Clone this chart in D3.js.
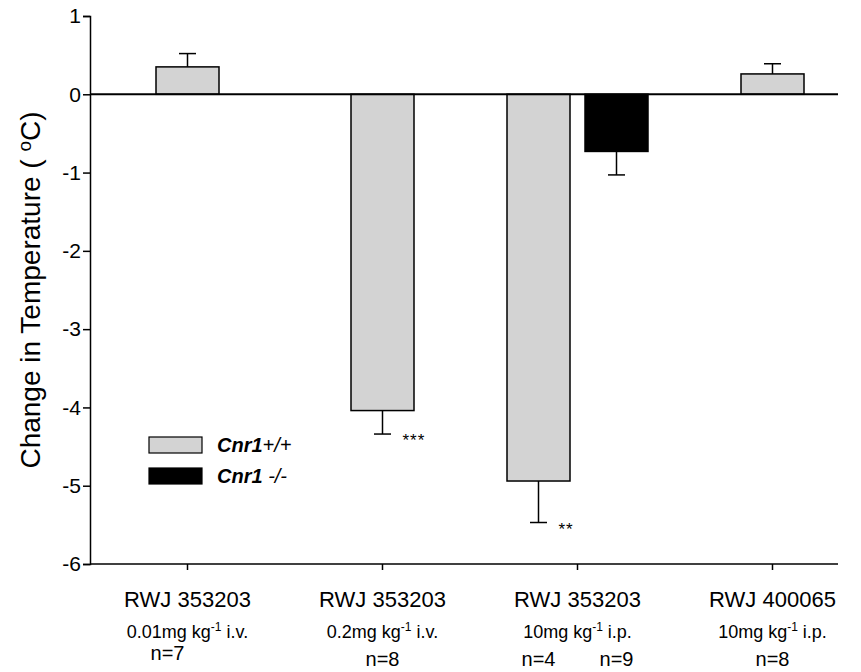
<!DOCTYPE html>
<html>
<head>
<meta charset="utf-8">
<script src="https://cdn.jsdelivr.net/npm/d3@7"></script>
<style>
  body { margin: 0; background: #fff; }
  svg { display: block; font-family: "Liberation Sans", Arial, sans-serif; }
</style>
</head>
<body>
<div id="chart"></div>
<script>
// groups along the x axis
const compounds = ['RWJ 353203', 'RWJ 353203', 'RWJ 353203', 'RWJ 400065'];
const doseAmounts = ['0.01mg kg', '0.2mg kg', '10mg kg', '10mg kg'];
const doseRoutes = ['i.v.', 'i.v.', 'i.p.', 'i.p.'];

// Cnr1 +/+ (grey) bars
const wtValues = [0.35, -4.04, -4.94, 0.26];
const wtErrors = [0.17, 0.30, 0.53, 0.13];
const wtN = ['n=7', 'n=8', 'n=4', 'n=8'];
const wtStars = ['', '***', '**', ''];

// Cnr1 -/- (black) bar, only in group 3
const koGroups = [2];
const koValues = [-0.73];
const koErrors = [0.30];
const koN = ['n=9'];

const yTicks = [1, 0, -1, -2, -3, -4, -5, -6];

const width = 861;
const height = 672;
const marginLeft = 90;
const marginTop = 16;
const plotBottom = 564;
const axisRight = 838;
const barW = 63;
const pairOffset = 39;

const $svg = d3.select('#chart').append('svg')
  .attr('width', width)
  .attr('height', height);

const scaleX = d3.scaleBand()
  .domain(d3.range(compounds.length))
  .range([marginLeft, marginLeft + 195 * 4]);

const scaleY = d3.scaleLinear()
  .domain([1, -6])
  .range([marginTop, plotBottom]);

const center = i => scaleX(i) + scaleX.bandwidth() / 2;

// bars table
const bars = [];
wtValues.forEach((v, i) => {
  const paired = koGroups.includes(i);
  bars.push({ x: center(i) - (paired ? pairOffset : 0), v, e: wtErrors[i], fill: '#d3d3d3', n: wtN[i], stars: wtStars[i], i });
});
koValues.forEach((v, k) => {
  const i = koGroups[k];
  bars.push({ x: center(i) + pairOffset, v, e: koErrors[k], fill: '#000', n: koN[k], stars: '', i });
});

// error bars (one-sided, away from zero)
const $err = $svg.append('g').attr('class', 'g-err')
  .attr('stroke', '#000').attr('stroke-width', 1.5);
bars.forEach(d => {
  const sign = d.v >= 0 ? 1 : -1;
  const yEnd = scaleY(d.v + sign * d.e);
  $err.append('line')
    .attr('x1', d.x).attr('x2', d.x)
    .attr('y1', scaleY(d.v)).attr('y2', yEnd);
  $err.append('line')
    .attr('x1', d.x - 8.5).attr('x2', d.x + 8.5)
    .attr('y1', yEnd).attr('y2', yEnd);
});

// bars
$svg.append('g').attr('class', 'g-bars')
  .selectAll('rect')
  .data(bars)
  .enter()
  .append('rect')
  .attr('x', d => d.x - barW / 2)
  .attr('width', barW)
  .attr('y', d => scaleY(Math.max(0, d.v)))
  .attr('height', d => Math.abs(scaleY(d.v) - scaleY(0)))
  .attr('fill', d => d.fill)
  .attr('stroke', '#000')
  .attr('stroke-width', 1.5);

// significance stars
$svg.append('g').attr('class', 'g-stars')
  .selectAll('text')
  .data(bars.filter(d => d.stars))
  .enter()
  .append('text')
  .attr('x', d => d.x + 20)
  .attr('y', d => scaleY(d.v - d.e) + 12)
  .attr('font-size', 17)
  .attr('letter-spacing', 1)
  .text(d => d.stars);

// zero line
$svg.append('line')
  .attr('x1', marginLeft).attr('x2', axisRight)
  .attr('y1', scaleY(0)).attr('y2', scaleY(0))
  .attr('stroke', '#000').attr('stroke-width', 2);

// y axis
const $yAxis = $svg.append('g')
  .attr('transform', `translate(${marginLeft},0)`)
  .call(d3.axisLeft(scaleY).tickValues(yTicks).tickSize(7).tickPadding(2).tickFormat(d3.format('d')));
$yAxis.select('.domain').attr('stroke-width', 1.5);
$yAxis.selectAll('.tick line').attr('stroke-width', 1.5);
$yAxis.selectAll('.tick text')
  .attr('font-size', 21)
  .attr('font-family', '"Liberation Sans", Arial, sans-serif')
  .text(d => d < 0 ? '-' + Math.abs(d) : d);

// x axis
const $xAxis = $svg.append('g')
  .attr('transform', `translate(0,${plotBottom})`)
  .call(d3.axisBottom(scaleX).tickSize(6).tickFormat(''));
$xAxis.select('.domain').remove();
$xAxis.selectAll('.tick line').attr('stroke-width', 1.5);
$svg.append('line')
  .attr('x1', marginLeft).attr('x2', axisRight)
  .attr('y1', plotBottom).attr('y2', plotBottom)
  .attr('stroke', '#000').attr('stroke-width', 1.5);

// x labels
const $xl = $svg.append('g').attr('class', 'g-xlabels').attr('text-anchor', 'middle');
compounds.forEach((c, i) => {
  $xl.append('text')
    .attr('x', center(i)).attr('y', 607)
    .attr('font-size', 22)
    .text(c);
  const $dose = $xl.append('text')
    .attr('x', center(i)).attr('y', 638)
    .attr('font-size', 18);
  $dose.append('tspan').text(doseAmounts[i]);
  $dose.append('tspan').attr('dy', -7).attr('font-size', 12).text('-1');
  $dose.append('tspan').attr('dy', 7).text(' ' + doseRoutes[i]);
});
bars.forEach(d => {
  $xl.append('text')
    .attr('x', d.x - (d.i === 0 ? 20 : 0)).attr('y', d.i === 0 ? 660 : 666)
    .attr('font-size', 20)
    .text(d.n);
});

// y label
const $yl = $svg.append('text')
  .attr('transform', `translate(40,${(marginTop + plotBottom) / 2}) rotate(-90)`)
  .attr('text-anchor', 'middle')
  .attr('font-size', 28);
$yl.append('tspan').text('Change in Temperature ( ');
$yl.append('tspan').attr('dy', -9).attr('font-size', 19).text('o');
$yl.append('tspan').attr('dy', 9).text('C)');

// legend
const legend = [
  { label: 'Cnr1', suffix: '+/+', fill: '#d3d3d3' },
  { label: 'Cnr1', suffix: ' -/-', fill: '#000' }
];
const $leg = $svg.append('g').attr('class', 'g-legend');
legend.forEach((d, k) => {
  const y = 437 + k * 31;
  $leg.append('rect')
    .attr('x', 149).attr('y', y)
    .attr('width', 53).attr('height', 16)
    .attr('fill', d.fill).attr('stroke', '#000').attr('stroke-width', 1.2);
  const $t = $leg.append('text')
    .attr('x', 217).attr('y', y + 15)
    .attr('font-size', 20).attr('font-style', 'italic');
  $t.append('tspan').attr('font-weight', 'bold').text(d.label);
  $t.append('tspan').text(d.suffix);
});
</script>
</body>
</html>
